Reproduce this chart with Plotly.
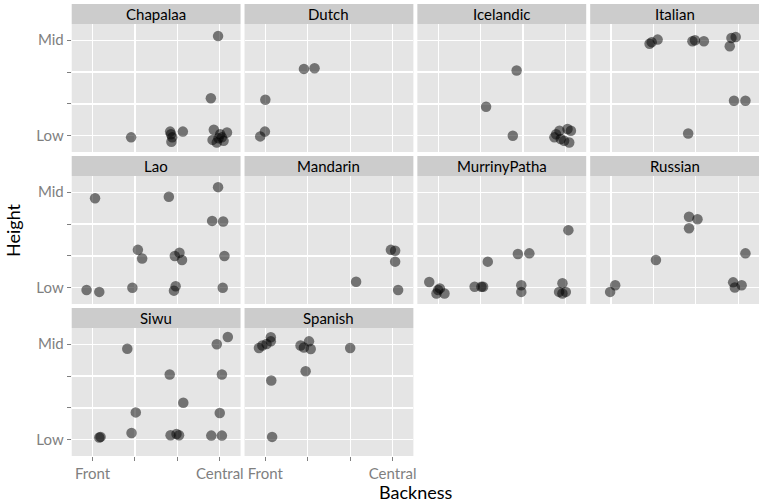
import plotly.graph_objects as go

# ---------------- data (jittered backness / height per language) ----------------
languages = ["Chapalaa", "Dutch", "Icelandic", "Italian", "Lao", "Mandarin",
             "MurrinyPatha", "Russian", "Siwu", "Spanish"]

x_ticklabels = ["Front", "", "", "Central"]
y_ticklabels = ["Low", "", "", "Mid"]

chapalaa_x = [3.96, 3.79, 1.91, 2.83, 2.88, 2.86, 2.85, 3.13, 3.86, 3.83, 3.93, 4.05, 4.17, 4.01, 4.09, 3.97]
chapalaa_y = [4.13, 2.18, 0.95, 1.13, 0.95, 0.81, 1.05, 1.13, 1.19, 0.87, 0.79, 0.95, 1.10, 1.05, 0.84, 0.92]

dutch_x = [1.91, 2.16, 1.00, 0.99, 0.88]
dutch_y = [3.10, 3.12, 2.13, 1.13, 0.98]

icelandic_x = [2.85, 2.13, 2.76, 3.74, 3.86, 4.05, 4.13, 3.97, 4.09, 3.89, 3.78]
icelandic_y = [3.05, 1.91, 1.00, 0.95, 1.16, 1.21, 1.16, 0.84, 0.79, 0.90, 1.05]

italian_x = [1.91, 1.96, 2.10, 2.92, 2.98, 3.19, 3.84, 3.94, 3.80, 3.90, 4.17, 2.82]
italian_y = [3.89, 3.94, 4.02, 3.97, 4.00, 3.97, 4.07, 4.10, 3.81, 2.10, 2.10, 1.07]

lao_x = [1.06, 2.80, 3.96, 3.82, 4.08, 2.07, 2.17, 2.94, 3.05, 3.11, 4.11, 0.86, 1.16, 1.94, 2.96, 2.92, 4.07]
lao_y = [3.81, 3.86, 4.16, 3.10, 3.08, 2.19, 1.92, 2.00, 2.10, 1.87, 2.00, 0.93, 0.87, 1.00, 1.05, 0.91, 1.00]

mandarin_x = [3.96, 4.06, 4.06, 3.14, 4.13]
mandarin_y = [2.19, 2.16, 1.82, 1.19, 0.93]

murrinypatha_x = [4.07, 2.88, 3.15, 2.17, 0.79, 1.00, 0.96, 1.15, 1.04, 1.86, 2.02, 2.06, 2.96, 2.96, 3.93, 3.85, 4.01, 3.93]
murrinypatha_y = [2.81, 2.06, 2.08, 1.82, 1.18, 0.93, 0.82, 0.82, 0.98, 1.03, 1.03, 1.03, 1.08, 0.87, 1.14, 0.87, 0.87, 0.82]

russian_x = [2.84, 3.04, 2.84, 2.06, 4.17, 1.10, 0.98, 3.88, 4.08, 3.92]
russian_y = [3.23, 3.15, 2.87, 1.87, 2.08, 1.08, 0.87, 1.17, 1.08, 1.01]

siwu_x = [4.19, 3.93, 1.82, 2.82, 4.05, 3.14, 2.02, 4.00, 1.16, 1.19, 1.92, 2.84, 2.98, 3.04, 3.80, 4.05]
siwu_y = [4.23, 4.00, 3.86, 3.05, 3.05, 2.16, 1.86, 1.84, 1.07, 1.09, 1.21, 1.14, 1.18, 1.14, 1.13, 1.13]

spanish_x = [1.13, 1.13, 1.03, 0.93, 0.85, 1.83, 1.91, 2.03, 2.07, 3.00, 1.95, 1.14, 1.16]
spanish_y = [4.22, 4.09, 4.01, 3.96, 3.88, 3.96, 3.90, 4.09, 3.85, 3.88, 3.15, 2.86, 1.09]

series_x = [chapalaa_x, dutch_x, icelandic_x, italian_x, lao_x, mandarin_x,
            murrinypatha_x, russian_x, siwu_x, spanish_x]
series_y = [chapalaa_y, dutch_y, icelandic_y, italian_y, lao_y, mandarin_y,
            murrinypatha_y, russian_y, siwu_y, spanish_y]

# ---------------- layout geometry ----------------
W, H = 767, 504
FONT = "Lato, 'DejaVu Sans', sans-serif"
col_left = [72, 245.5, 419, 592.5]
col_w = 169.5
row_strip_top = [4, 156, 308]
strip_h = 20
panel_h = 128

fig = go.Figure()
layout = dict(
    width=W, height=H,
    margin=dict(l=0, r=0, t=0, b=0),
    paper_bgcolor="white", plot_bgcolor="#E5E5E5",
    showlegend=False,
    font=dict(family=FONT),
    shapes=[], annotations=[],
)

def px2fx(p):
    return p / W

def py2fy(p):
    return 1 - p / H

for i, lang in enumerate(languages):
    r, c = divmod(i, 4)
    n = "" if i == 0 else str(i + 1)
    x0 = col_left[c]
    x1 = x0 + col_w
    st = row_strip_top[r]
    p_top = st + strip_h
    p_bot = p_top + panel_h
    show_x = lang in ("Siwu", "Spanish")
    show_y = c == 0
    layout["xaxis" + n] = dict(
        domain=[px2fx(x0), px2fx(x1)], anchor="y" + n,
        range=[0.51, 4.49], tickvals=[1, 2, 3, 4], ticktext=x_ticklabels,
        showticklabels=show_x, ticks="outside" if show_x else "", ticklen=4,
        tickcolor="#7F7F7F", tickfont=dict(size=15, color="#7F7F7F", family=FONT),
        showgrid=True, gridcolor="white", gridwidth=1.2, zeroline=False,
        showline=False, fixedrange=True,
    )
    layout["yaxis" + n] = dict(
        domain=[py2fy(p_bot), py2fy(p_top)], anchor="x" + n,
        range=[0.49, 4.51], tickvals=[1, 2, 3, 4], ticktext=y_ticklabels,
        showticklabels=show_y, ticks="outside" if show_y else "", ticklen=4,
        tickcolor="#7F7F7F", tickfont=dict(size=15, color="#7F7F7F", family=FONT),
        showgrid=True, gridcolor="white", gridwidth=1.2, zeroline=False,
        showline=False, fixedrange=True,
    )
    # strip
    layout["shapes"].append(dict(
        type="rect", xref="paper", yref="paper",
        x0=px2fx(x0), x1=px2fx(x1), y0=py2fy(p_top), y1=py2fy(st),
        fillcolor="#CCCCCC", line=dict(width=0), layer="below"))
    layout["annotations"].append(dict(
        text=lang, xref="paper", yref="paper",
        x=px2fx((x0 + x1) / 2), y=py2fy(st + strip_h / 2),
        xanchor="center", yanchor="middle", showarrow=False,
        font=dict(size=15, color="black", family=FONT, weight=400)))
    fig.add_trace(go.Scatter(
        x=series_x[i], y=series_y[i], mode="markers",
        xaxis="x" + n, yaxis="y" + n,
        marker=dict(size=10.5, color="rgba(0,0,0,0.5)", line=dict(width=0)),
        hoverinfo="skip"))

layout["annotations"].append(dict(
    text="Backness", xref="paper", yref="paper", x=px2fx(418), y=py2fy(492),
    xanchor="center", yanchor="middle", showarrow=False,
    font=dict(size=18, color="black", family=FONT)))
layout["annotations"].append(dict(
    text="Height", xref="paper", yref="paper", x=px2fx(13), y=py2fy(230),
    xanchor="center", yanchor="middle", showarrow=False, textangle=-90,
    font=dict(size=18, color="black", family=FONT)))

fig.update_layout(**layout)
fig.write_html("out.html", config={"displayModeBar": False, "staticPlot": True},
               post_script="document.body.style.margin='0px';")
